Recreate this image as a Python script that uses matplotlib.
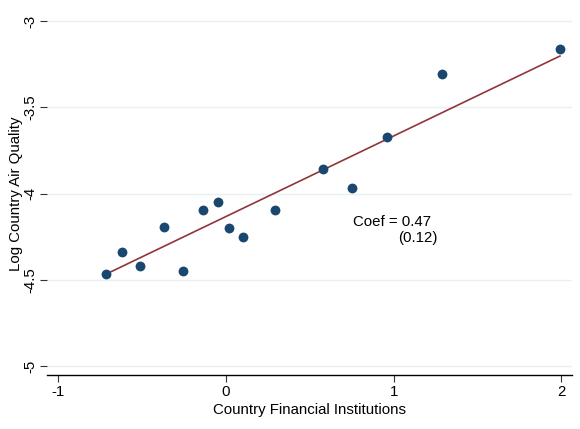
import numpy as np
import matplotlib
matplotlib.use("Agg")
import matplotlib.pyplot as plt

plt.rcParams['font.family'] = ['Liberation Sans', 'DejaVu Sans']
plt.rcParams['axes.unicode_minus'] = False

# binned scatter values
fin_inst = [-0.715, -0.619, -0.510, -0.367, -0.254, -0.133, -0.044, 0.018,
            0.101, 0.295, 0.578, 0.752, 0.959, 1.290, 1.991]
air_quality = [-4.468, -4.339, -4.422, -4.192, -4.451, -4.094, -4.049, -4.202,
               -4.250, -4.094, -3.858, -3.968, -3.672, -3.309, -3.161]

# fitted line
coef = 0.4675
intercept = -4.134
coef_label = "Coef = 0.47"
se_label = "(0.12)"

x_ticks = [-1, 0, 1, 2]
y_ticks = [-5, -4.5, -4, -3.5, -3]
y_ticklabels = ["-5", "-4.5", "-4", "-3.5", "-3"]

NAVY = "#1a476f"
MAROON = "#90353b"
FS = 10.8

fig = plt.figure(figsize=(5.8, 4.29), dpi=100)
ax = fig.add_axes([0.0816, 0.1259, 0.9041, 0.8461])

for yt in y_ticks:
    ax.axhline(yt, color="#eaf0f2", lw=1.0, zorder=0)

xs = np.array([min(fin_inst), max(fin_inst)])
ax.plot(xs, intercept + coef * xs, color=MAROON, lw=1.2, zorder=2)
ax.scatter(fin_inst, air_quality, s=50, color=NAVY, zorder=3, linewidths=0)

ax.text(0.758, -4.163, coef_label, fontsize=FS, va="center", ha="left")
ax.text(1.024, -4.259, se_label, fontsize=FS, va="center", ha="left")

ax.set_xlim(-1.063, 2.061)
ax.set_ylim(-5.052, -2.948)
ax.set_xticks(x_ticks)
ax.set_yticks(y_ticks)
ax.set_yticklabels(y_ticklabels, rotation=90, va="center")
ax.tick_params(axis="both", labelsize=FS, length=5, width=0.8, color="#333333")
ax.tick_params(axis="y", pad=2)
ax.tick_params(axis="x", pad=2)

for s in ["top", "right", "left"]:
    ax.spines[s].set_visible(False)
ax.spines["bottom"].set_linewidth(1.0)

ax.set_xlabel("Country Financial Institutions", fontsize=FS, labelpad=3)
ax.set_ylabel("Log Country Air Quality", fontsize=FS, labelpad=0.5)

fig.savefig("out.png", dpi=100, facecolor="white")
